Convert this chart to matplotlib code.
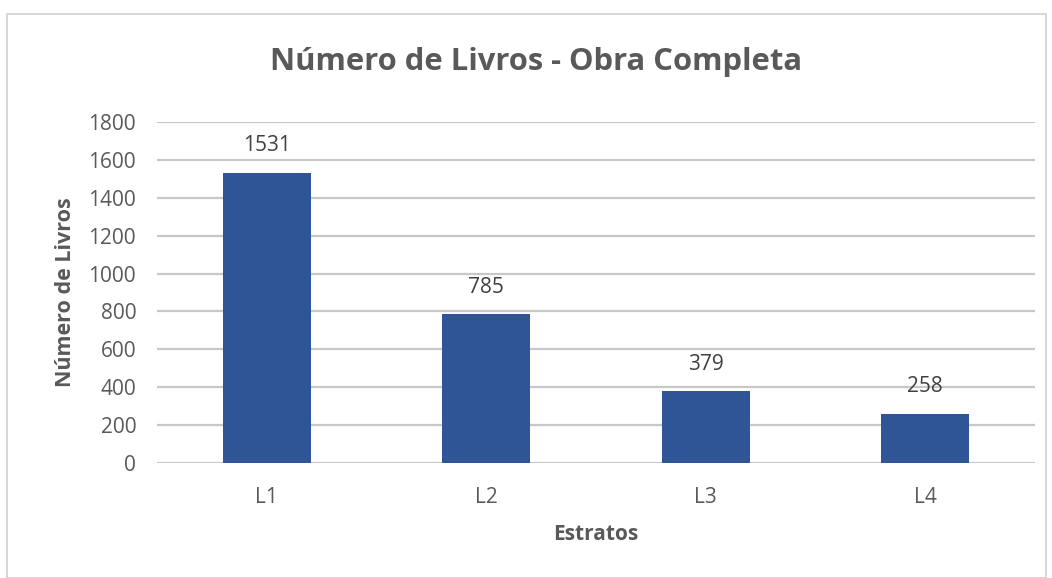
import matplotlib.pyplot as plt
from matplotlib.patches import Rectangle

categories = ["L1", "L2", "L3", "L4"]
values = [1531, 785, 379, 258]
yticks = [0, 200, 400, 600, 800, 1000, 1200, 1400, 1600, 1800]

plt.rcParams['font.family'] = ['Open Sans', 'DejaVu Sans']
txt = '#595959'

fig = plt.figure(figsize=(10.52, 5.78), dpi=100)
W, H = 1052, 578
ax = fig.add_axes([157 / W, 1 - 463 / H, (1035 - 157) / W, (463 - 122) / H])

x = range(len(categories))
bars = ax.bar(x, values, width=0.40, color='#2F5597', zorder=3)
ax.set_xlim(-0.5, len(categories) - 0.5)
ax.set_ylim(0, 1800)
ax.set_yticks(yticks)
ax.set_yticklabels([str(t) for t in yticks], fontsize=15, color=txt)
ax.set_xticks(list(x))
ax.set_xticklabels(categories, fontsize=15, color=txt)
ax.tick_params(axis='both', length=0)
ax.tick_params(axis='y', pad=15)
ax.tick_params(axis='x', pad=17)
ax.grid(axis='y', color='#C8C8C8', linewidth=1.6, zorder=0)
for s in ax.spines.values():
    s.set_visible(False)

for xi, v in zip(x, values):
    ax.annotate(str(v), (xi, v), xytext=(0, 12), textcoords='offset points',
                ha='center', va='bottom', fontsize=15, color='#404040')

ax.set_ylabel("Número de Livros", fontsize=15.5, fontweight='bold', color=txt, labelpad=9)
ax.set_xlabel("Estratos", fontsize=15, fontweight='bold', color=txt, labelpad=12)

fig.text(536 / W, 1 - 62 / H, "Número de Livros - Obra Completa", ha='center', va='center',
         fontsize=22.3, fontweight='bold', color=txt)

fig.patches.append(Rectangle((7 / W, 0.5 / H), (1046 - 7) / W, (577 - 13) / H,
                             transform=fig.transFigure, fill=False,
                             edgecolor='#D0D0D0', linewidth=1.2))

fig.savefig('out.png', dpi=100)
